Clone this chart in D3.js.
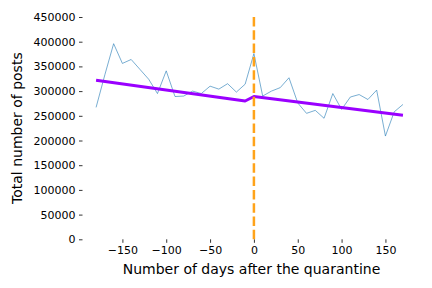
<!DOCTYPE html>
<html>
<head>
<meta charset="utf-8">
<script src="https://cdn.jsdelivr.net/npm/d3@7"></script>
<style>
  body { margin: 0; background: #fff; }
  svg { display: block; font-family: "DejaVu Sans", sans-serif; }
</style>
</head>
<body>
<div id="app"></div>
<script>
const days = [-180, -170, -160, -150, -140, -130, -120, -110, -100, -90,
  -80, -70, -60, -50, -40, -30, -20, -10, 0, 10, 20, 30, 40, 50, 60, 70,
  80, 90, 100, 110, 120, 130, 140, 150, 160, 170]
const posts = [267000, 333000, 396000, 356000, 364000, 344000, 324000, 295000,
  341000, 289000, 290000, 300000, 295000, 310000, 304000, 315000, 298000,
  314000, 376000, 290000, 300000, 307000, 327000, 276000, 255000, 261000,
  245000, 295000, 263000, 288000, 293000, 283000, 302000, 209000, 258000, 273000]

// fitted trend before / after the quarantine
const trendDays = [-180, -10, 0, 170]
const trendPosts = [322000, 280000, 289000, 251000]

const xTicks = [-150, -100, -50, 0, 50, 100, 150]
const yTicks = [0, 50000, 100000, 150000, 200000, 250000, 300000, 350000, 400000, 450000]

const width = 432
const height = 288

const x = d3.scaleLinear().domain([-195.5, 190]).range([82.5, 420.5])
const y = d3.scaleLinear().domain([0, 450000]).range([239.3, 17])

const svg = d3.select('#app')
  .append('svg')
  .attr('width', width)
  .attr('height', height)

const fmtMinus = d => String(d).replace('-', '\u2212')

const xAxis = svg.append('g')
  .attr('transform', `translate(0,${y(0)})`)
  .call(d3.axisBottom(x).tickValues(xTicks).tickSize(3.5).tickPadding(3.5).tickFormat(fmtMinus))
xAxis.select('.domain').remove()

const yAxis = svg.append('g')
  .attr('transform', `translate(${x.range()[0]},0)`)
  .call(d3.axisLeft(y).tickValues(yTicks).tickSize(3.5).tickPadding(3.5).tickFormat(d => d))
yAxis.select('.domain').remove()

svg.selectAll('.tick text')
  .attr('font-size', 11)
  .attr('font-family', 'DejaVu Sans')
  .attr('fill', '#000')
svg.selectAll('.tick line').attr('stroke', '#000').attr('stroke-width', 0.8)

// raw series
svg.append('path')
  .datum(days.map((d, i) => [d, posts[i]]))
  .attr('fill', 'none')
  .attr('stroke', '#1f77b4')
  .attr('stroke-width', 0.6)
  .attr('d', d3.line().x(d => x(d[0])).y(d => y(d[1])))

// trend
svg.append('path')
  .datum(trendDays.map((d, i) => [d, trendPosts[i]]))
  .attr('fill', 'none')
  .attr('stroke', '#9a00ff')
  .attr('stroke-width', 3)
  .attr('stroke-linejoin', 'round')
  .attr('d', d3.line().x(d => x(d[0])).y(d => y(d[1])))

// quarantine marker
svg.append('line')
  .attr('x1', x(0)).attr('x2', x(0))
  .attr('y1', y(0)).attr('y2', y(450000))
  .attr('stroke', '#ffa31a')
  .attr('stroke-width', 2.5)
  .attr('stroke-dasharray', '9.5 3.8')

svg.append('text')
  .attr('x', (x.range()[0] + x.range()[1]) / 2)
  .attr('y', 274)
  .attr('text-anchor', 'middle')
  .attr('font-size', 14)
  .text('Number of days after the quarantine')

svg.append('text')
  .attr('transform', `translate(21.5,${(y(0) + y(450000)) / 2}) rotate(-90)`)
  .attr('text-anchor', 'middle')
  .attr('font-size', 14)
  .text('Total number of posts')
</script>
</body>
</html>
